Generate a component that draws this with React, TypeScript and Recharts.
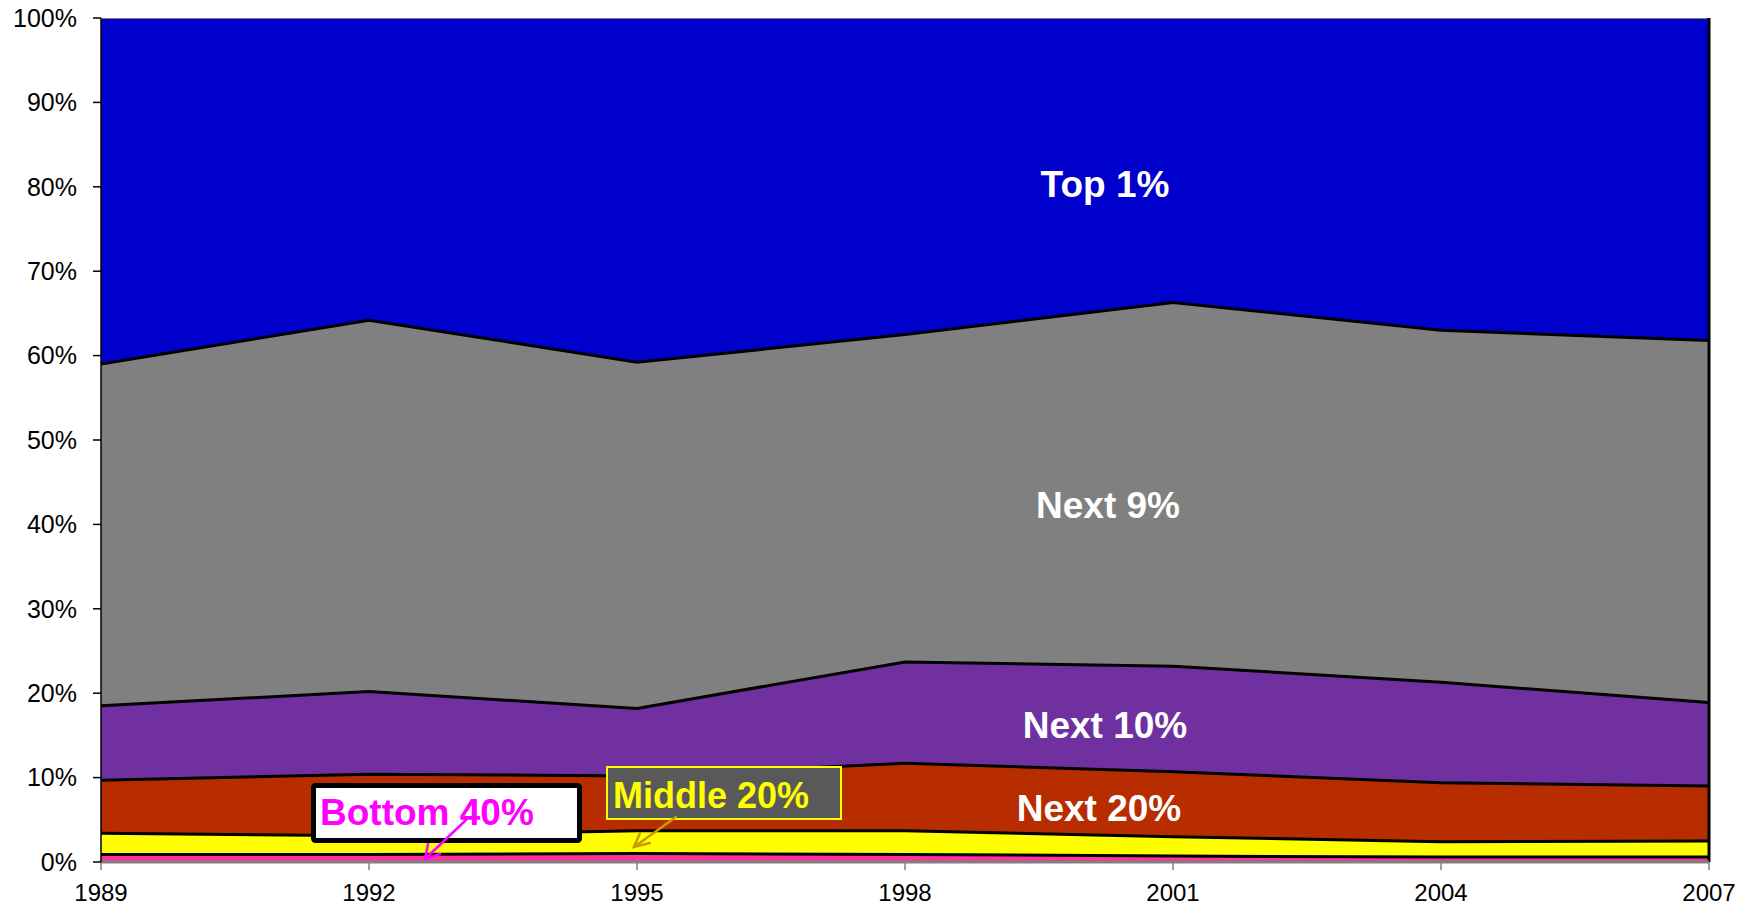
import { AreaChart, Area, XAxis, YAxis, ReferenceLine } from 'recharts';

// Share of each group, in percent, by survey year
const years = [1989, 1992, 1995, 1998, 2001, 2004, 2007];
const bottom40 = [0.9, 0.9, 1.0, 0.9, 0.7, 0.6, 0.6];
const middle20 = [2.5, 2.2, 2.7, 2.8, 2.3, 1.8, 1.9];
const next20 = [6.3, 7.3, 6.5, 8.0, 7.7, 7.0, 6.5];
const next10 = [8.8, 9.8, 8.0, 12.0, 12.5, 11.9, 9.9];
const next9 = [40.5, 44.0, 41.0, 38.8, 43.1, 41.7, 42.9];
const top1 = [41.0, 35.8, 40.8, 37.5, 33.7, 37.0, 38.2];

const yTicks = [0, 10, 20, 30, 40, 50, 60, 70, 80, 90, 100];

const data = years.map((year, i) => ({
  year,
  bottom40: bottom40[i],
  middle20: middle20[i],
  next20: next20[i],
  next10: next10[i],
  next9: next9[i],
  top1: top1[i],
}));

const FONT = '"Liberation Sans", Arial, Helvetica, sans-serif';

const series = [
  { key: 'bottom40', color: '#FF3399' },
  { key: 'middle20', color: '#FFFF00' },
  { key: 'next20', color: '#B82D00' },
  { key: 'next10', color: '#7030A0' },
  { key: 'next9', color: '#808080' },
  { key: 'top1', color: '#0000CC' },
];

function Annotations() {
  const label = { fontFamily: FONT, fontWeight: 700, fontSize: 37 } as const;
  return (
    <svg
      width={1754}
      height={907}
      style={{ position: 'absolute', left: 0, top: 0, pointerEvents: 'none' }}
    >
      <text x={1105} y={197} textAnchor="middle" fill="#fff" style={label}>Top 1%</text>
      <text x={1108} y={518} textAnchor="middle" fill="#fff" style={label}>Next 9%</text>
      <text x={1105} y={738} textAnchor="middle" fill="#fff" style={label}>Next 10%</text>
      <text x={1099} y={821} textAnchor="middle" fill="#fff" style={label}>Next 20%</text>

      {/* Bottom 40% callout */}
      <rect x={313.5} y={785.5} width={266} height={55} fill="#fff" stroke="#000" strokeWidth={5} rx={2} />
      <text x={320} y={825} fill="#FF00FF" style={label}>Bottom 40%</text>
      <g stroke="#FF00FF" strokeWidth={2.5} fill="none" strokeLinecap="round">
        <line x1={466} y1={820} x2={425} y2={859} />
        <polyline points="428,844 425,859 440,854" />
      </g>

      {/* Middle 20% callout */}
      <rect x={607} y={767} width={234} height={52} fill="#595959" stroke="#FFFF00" strokeWidth={2} />
      <text x={613} y={808} fill="#FFFF00" style={{ ...label, fontSize: 36 }}>Middle 20%</text>
      <g stroke="#C89B00" strokeWidth={2.5} fill="none" strokeLinecap="round">
        <line x1={676} y1={817} x2={634} y2={847} />
        <polyline points="640,833 634,847 650,843" />
      </g>
    </svg>
  );
}

export default function App() {
  return (
    <div style={{ position: 'absolute', left: 0, top: 0, width: 1754, height: 907, background: '#fff' }}>
      <AreaChart
        width={1754}
        height={907}
        data={data}
        margin={{ top: 18, right: 45, bottom: 0, left: 0 }}
      >
        {/* filled bands */}
        {series.map((s) => (
          <Area
            key={s.key}
            type="linear"
            dataKey={s.key}
            stackId="share"
            fill={s.color}
            fillOpacity={1}
            stroke="none"
            dot={false}
            activeDot={false}
            isAnimationActive={false}
          />
        ))}
        {/* band outlines, drawn over every fill so they keep their full width */}
        {series.map((s) => (
          <Area
            key={`${s.key}-edge`}
            type="linear"
            dataKey={s.key}
            stackId="edges"
            fill="none"
            fillOpacity={0}
            stroke={s.key === 'top1' ? '#808080' : '#000'}
            strokeWidth={s.key === 'top1' ? 2 : 3}
            dot={false}
            activeDot={false}
            isAnimationActive={false}
            legendType="none"
          />
        ))}
        <ReferenceLine x={2007} stroke="#000" strokeWidth={3} />
        <XAxis
          dataKey="year"
          type="number"
          domain={[1989, 2007]}
          ticks={years}
          height={45}
          axisLine={{ stroke: '#808080', strokeWidth: 3 }}
          tickLine={{ stroke: '#808080', strokeWidth: 1.5 }}
          tickSize={8}
          tickMargin={14}
          tick={{ fontSize: 24, fill: '#000', fontFamily: FONT }}
        />
        <YAxis
          type="number"
          domain={[0, 100]}
          ticks={yTicks}
          width={101}
          allowDataOverflow
          tickFormatter={(v: number) => `${v}%`}
          axisLine={{ stroke: '#000', strokeWidth: 1.5 }}
          tickLine={{ stroke: '#000', strokeWidth: 1.5 }}
          tickSize={8}
          tickMargin={16}
          tick={{ fontSize: 25, fill: '#000', fontFamily: FONT }}
        />
      </AreaChart>
      <Annotations />
    </div>
  );
}
